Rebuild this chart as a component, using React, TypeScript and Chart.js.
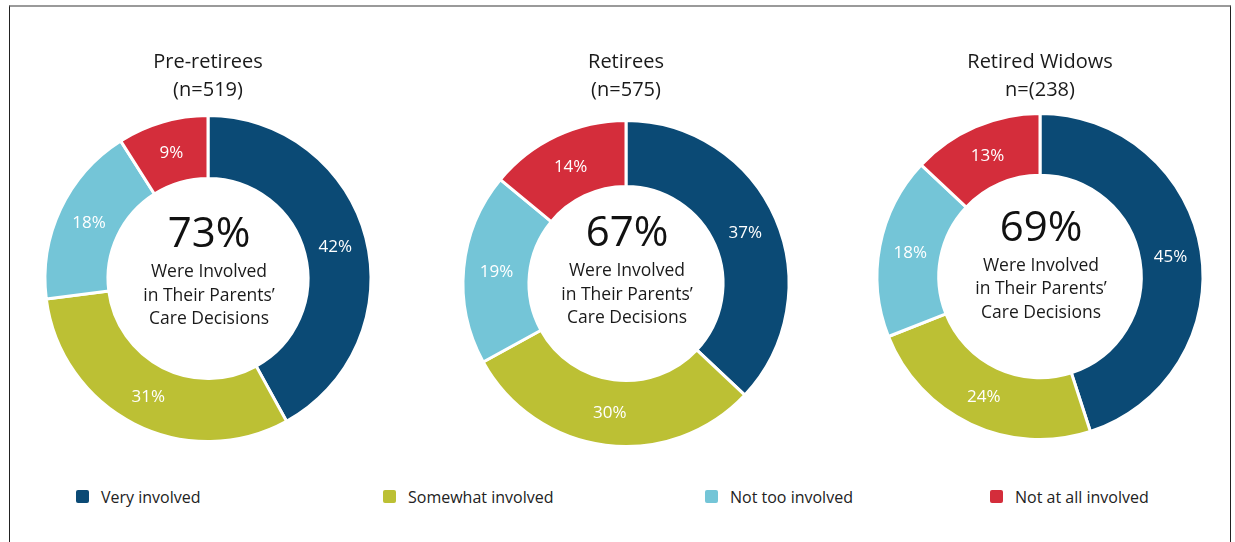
import React, { useEffect, useRef } from 'react';
import { Chart, registerables } from 'chart.js';

Chart.register(...registerables);

// ---- data ----
const categories = ['Very involved', 'Somewhat involved', 'Not too involved', 'Not at all involved'];
const groupTitles = ['Pre-retirees', 'Retirees', 'Retired Widows'];
const groupSizes = ['(n=519)', '(n=575)', 'n=(238)'];
const preRetirees = [42, 31, 18, 9];
const retirees = [37, 30, 19, 14];
const retiredWidows = [45, 24, 18, 13];
const involvedTotals = [73, 67, 69];
const centerCaption = ['Were Involved', 'in Their Parents\u2019', 'Care Decisions'];

const seriesValues = [preRetirees, retirees, retiredWidows];

// ---- styles / layout ----
const colors = ['#0b4a75', '#bcc034', '#74c5d7', '#d42d3b'];
const FONT = "'Open Sans', 'Noto Sans', sans-serif";
const CW = 380;
const CH = 460;
const TITLE_BOTTOM = 114;
const layouts = [
  { cx: 208, cy: 278.5, textShift: -31.5 },
  { cx: 626, cy: 283.5, textShift: -37.5 },
  { cx: 1040, cy: 276.5, textShift: -36 },
];
const legendLeft = [76, 383, 705, 990];

Chart.defaults.font.family = FONT;

function Donut({ i }: { i: number }) {
  const ref = useRef<HTMLCanvasElement>(null);
  useEffect(() => {
    const L = layouts[i];
    const values = seriesValues[i];
    const labelPlugin = {
      id: 'sliceLabels',
      afterDatasetsDraw(chart: any) {
        const ctx = chart.ctx;
        const meta = chart.getDatasetMeta(0);
        ctx.save();
        ctx.fillStyle = '#ffffff';
        ctx.font = `17px ${FONT}`;
        ctx.textAlign = 'center';
        ctx.textBaseline = 'middle';
        meta.data.forEach((arc: any, k: number) => {
          const p = arc.getCenterPoint();
          ctx.fillText(`${values[k]}%`, p.x, p.y + 1);
        });
        ctx.restore();
      },
    };
    const centerPlugin = {
      id: 'centerText',
      afterDatasetsDraw(chart: any) {
        const ctx = chart.ctx;
        const arc = chart.getDatasetMeta(0).data[0];
        const x = arc.x + 1;
        const y = arc.y + L.textShift;
        ctx.save();
        ctx.textAlign = 'center';
        ctx.textBaseline = 'alphabetic';
        ctx.fillStyle = '#111111';
        ctx.font = `42px ${FONT}`;
        ctx.fillText(`${involvedTotals[i]}%`, x, y);
        ctx.fillStyle = '#1a1a1a';
        ctx.font = `17.5px ${FONT}`;
        centerCaption.forEach((line, k) => {
          ctx.fillText(line, x, y + 30 + k * 23.5);
        });
        ctx.restore();
      },
    };
    const chart = new Chart(ref.current!, {
      type: 'doughnut',
      data: {
        labels: categories,
        datasets: [
          {
            data: values,
            backgroundColor: colors,
            borderColor: '#ffffff',
            borderWidth: 3,
          },
        ],
      },
      options: {
        responsive: false,
        animation: false,
        events: [],
        cutout: 100,
        radius: 163,
        layout: { padding: { top: 0, left: 0, right: 0, bottom: CH - (2 * L.cy - TITLE_BOTTOM) } },
        plugins: {
          legend: { display: false },
          tooltip: { enabled: false },
          title: {
            display: true,
            text: [groupTitles[i], groupSizes[i]],
            color: '#1a1a1a',
            font: { size: 20, weight: 'normal', family: FONT, lineHeight: 1.4 },
            padding: { top: 48, bottom: 10 },
          },
        },
      } as any,
      plugins: [labelPlugin, centerPlugin],
    });
    return () => chart.destroy();
  }, [i]);
  const L = layouts[i];
  return (
    <canvas
      ref={ref}
      width={CW}
      height={CH}
      style={{ position: 'absolute', left: L.cx - CW / 2, top: 0, width: CW, height: CH }}
    />
  );
}

export default function App() {
  return (
    <div
      style={{
        position: 'absolute',
        left: 0,
        top: 0,
        width: 1235,
        height: 542,
        overflow: 'hidden',
        background: '#ffffff',
        fontFamily: FONT,
      }}
    >
      <div
        style={{
          position: 'absolute',
          left: 9,
          top: 5,
          width: 1222,
          height: 600,
          borderTop: '2px solid #9a9a9a',
          borderLeft: '1px solid #222',
          borderRight: '1.5px solid #222',
          boxSizing: 'border-box',
        }}
      />
      {[0, 1, 2].map((i) => (
        <Donut key={i} i={i} />
      ))}
      {categories.map((c, k) => (
        <div key={c} style={{ position: 'absolute', left: legendLeft[k], top: 487, height: 20, display: 'flex', alignItems: 'flex-start' }}>
          <span
            style={{
              display: 'inline-block',
              width: 13,
              height: 13,
              borderRadius: 2,
              background: colors[k],
              marginTop: 3,
              marginRight: 12,
            }}
          />
          <span style={{ fontSize: 16, lineHeight: '20px', color: '#222' }}>{c}</span>
        </div>
      ))}
    </div>
  );
}
